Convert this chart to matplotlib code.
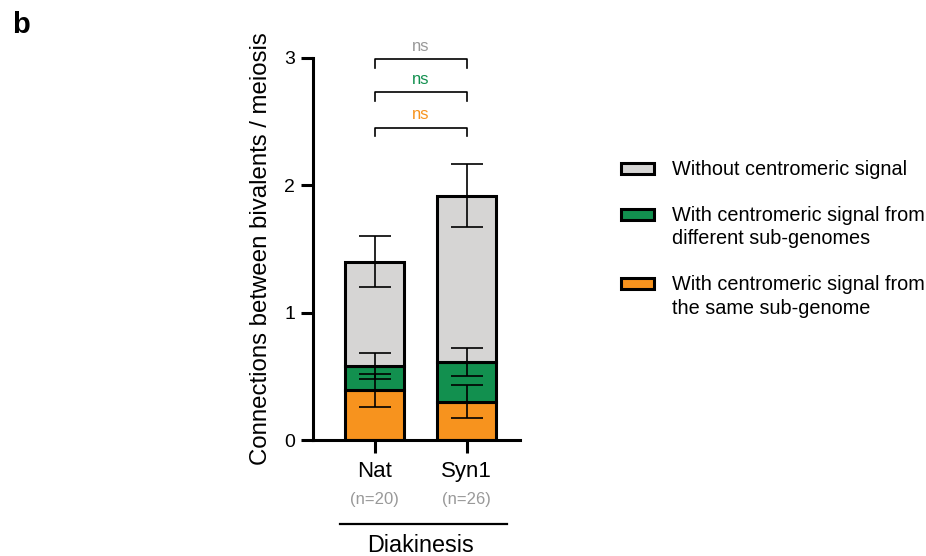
import matplotlib
import matplotlib.pyplot as plt
from matplotlib.patches import Rectangle
import numpy as np

plt.rcParams['font.family'] = ['Liberation Sans', 'DejaVu Sans']

groups = ["Nat", "Syn1"]
n_labels = ["(n=20)", "(n=26)"]
same_sub = [0.39, 0.30]          # orange segment
same_err = [0.13, 0.13]
diff_sub = [0.19, 0.31]          # green segment
diff_err = [0.10, 0.11]
no_signal = [0.82, 1.31]         # gray segment
no_err = [0.20, 0.25]

legend_labels = ['Without centromeric signal',
                 'With centromeric signal from\ndifferent sub-genomes',
                 'With centromeric signal from\nthe same sub-genome']

orange = '#F7931E'
green = '#12904F'
gray = '#D6D5D4'

x = np.arange(len(groups))
width = 0.64

fig = plt.figure(figsize=(9.26, 5.56), dpi=100)
ax = fig.add_axes([0.338, 0.2086, 0.2236, 0.6871])

edge = dict(edgecolor='black', linewidth=2.2, zorder=2)
ax.bar(x, same_sub, width, color=orange, **edge)
bottom2 = np.array(same_sub)
ax.bar(x, diff_sub, width, bottom=bottom2, color=green, **edge)
bottom3 = bottom2 + np.array(diff_sub)
ax.bar(x, no_signal, width, bottom=bottom3, color=gray, **edge)

tops = [bottom2, bottom3, bottom3 + np.array(no_signal)]
errs = [same_err, diff_err, no_err]
for t, e in zip(tops, errs):
    ax.errorbar(x, t, yerr=e, fmt='none', ecolor='black', elinewidth=1.2,
                capsize=11.5, capthick=1.2, zorder=3)

ax.set_xlim(-0.668, 1.58)
ax.set_ylim(0, 3)
ax.set_yticks([0, 1, 2, 3])
ax.set_xticks(x)
ax.set_xticklabels(groups)
for s in ['top', 'right']:
    ax.spines[s].set_visible(False)
for s in ['left', 'bottom']:
    ax.spines[s].set_linewidth(2.2)
ax.tick_params(axis='both', width=2.2, length=9)
ax.tick_params(axis='x', pad=6, labelsize=16)
ax.tick_params(axis='y', pad=4, labelsize=14)
ax.set_ylabel('Connections between bivalents / meiosis', fontsize=17.3, labelpad=9)

# significance brackets
brackets = [(2.99, '#999999'), (2.73, green), (2.45, orange)]
for yb, c in brackets:
    ax.plot([x[0], x[0], x[1], x[1]], [yb - 0.065, yb, yb, yb - 0.065],
            color='black', lw=1.2, clip_on=False)
    ax.text((x[0] + x[1]) / 2, yb + 0.045, 'ns', color=c, fontsize=12,
            ha='center', va='bottom', clip_on=False)

# sample sizes and stage label
trans = ax.get_xaxis_transform()
for xi, nl in zip(x, n_labels):
    ax.text(xi, -0.155, nl, color='#999999', fontsize=12, ha='center', va='center', transform=trans)
ax.plot([-0.375, 1.44], [-0.22, -0.22], color='black', lw=1.6, transform=trans, clip_on=False)
ax.text(0.5, -0.275, 'Diakinesis', fontsize=16.8, ha='center', va='center', transform=trans)

fig.text(0.013, 0.955, 'b', fontsize=21, fontweight='bold', va='center')

# legend, with the box next to the first line of each label
leg_colors = [gray, green, orange]
leg_y = [168, 214, 283]          # first-line centres, pixels from top
W, H = 926, 556
for c, lab, yp in zip(leg_colors, legend_labels, leg_y):
    fig.patches.append(Rectangle((621 / W, 1 - (yp + 6) / H), 33 / W, 11 / H,
                                 transform=fig.transFigure, facecolor=c,
                                 edgecolor='black', linewidth=2.2))
    fig.text(672 / W, 1 - (yp - 8) / H, lab, fontsize=14.3, ha='left', va='top',
             linespacing=1.3)

fig.savefig('out.png', dpi=100)
